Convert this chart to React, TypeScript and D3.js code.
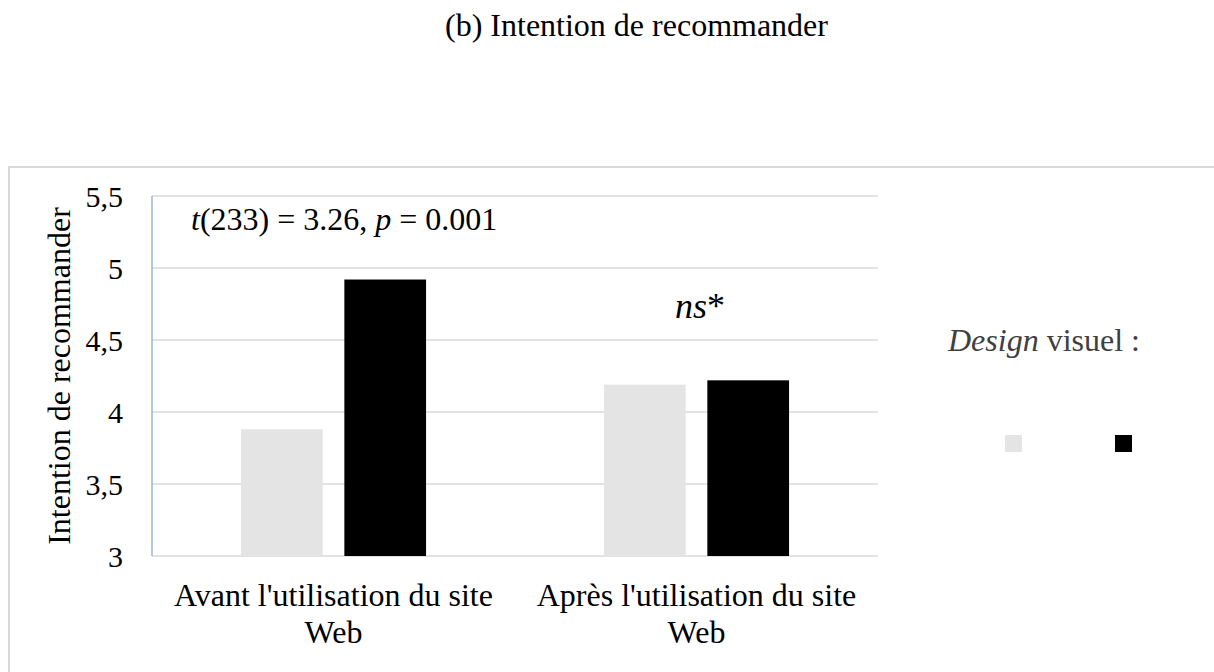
import React from "react";
import * as d3 from "d3";

const categories = ["Avant l'utilisation du site Web", "Après l'utilisation du site Web"];
const categoryLines = [["Avant l'utilisation du site", "Web"], ["Après l'utilisation du site", "Web"]];
const seriesNames = ["Design A", "Design B"];
const seriesColors = ["#e4e4e4", "#000000"];
const valuesA = [3.88, 4.19];
const valuesB = [4.92, 4.22];
const yTicks = [3, 3.5, 4, 4.5, 5, 5.5];

const W = 1214;
const H = 672;
const FONT = "Liberation Serif";

export default function App() {
  const left = 152, right = 878, top = 196, bottom = 556;
  const y = d3.scaleLinear().domain([3, 5.5]).range([bottom, top]);
  const x0 = d3.scaleBand<string>().domain(categories).range([left, right]).padding(0);
  const x1 = d3.scaleBand<string>().domain(seriesNames).range([0, x0.bandwidth()]).paddingInner(0.21).paddingOuter(0.86);
  const fmt = (v: number) => String(v).replace(".", ",");
  const seriesVals = [valuesA, valuesB];
  const ts = { fontFamily: FONT } as React.CSSProperties;

  return (
    <svg width={W} height={H} style={{ position: "absolute", left: 0, top: 0, background: "#fff", fontFamily: FONT }}>
      <rect x={0} y={0} width={W} height={H} fill="#fff" />
      <text style={ts} x={636.5} y={36} textAnchor="middle" fontSize={32} fill="#000">(b) Intention de recommander</text>
      <rect x={9} y={167} width={W + 20} height={H} fill="none" stroke="#d9d9d9" strokeWidth={2} />
      {yTicks.map((t) => (
        <line key={t} x1={left} x2={right} y1={y(t)} y2={y(t)} stroke="#d9d9d9" strokeWidth={1.5} />
      ))}
      {yTicks.map((t) => (
        <text style={ts} key={"l" + t} x={123} y={y(t)} dy="0.35em" textAnchor="end" fontSize={30} fill="#000">{fmt(t)}</text>
      ))}
      {categories.map((c, ci) => (
        <g key={c} transform={`translate(${x0(c)},0)`}>
          {seriesNames.map((s, si) => (
            <rect key={s} x={x1(s)} y={y(seriesVals[si][ci])} width={x1.bandwidth()} height={bottom - y(seriesVals[si][ci])} fill={seriesColors[si]} />
          ))}
        </g>
      ))}
      <line x1={left} x2={left} y1={top} y2={bottom} stroke="#7aa7d8" strokeWidth={1.2} />
      {categories.map((c, ci) => (
        <text style={ts} key={"c" + c} x={(x0(c) as number) + x0.bandwidth() / 2} y={606} textAnchor="middle" fontSize={32} fill="#000">
          {categoryLines[ci].map((ln, li) => (
            <tspan key={li} x={(x0(c) as number) + x0.bandwidth() / 2} dy={li === 0 ? 0 : 37}>{ln}</tspan>
          ))}
        </text>
      ))}
      <text style={ts} transform={`translate(70,376) rotate(-90)`} textAnchor="middle" fontSize={32} fill="#000">Intention de recommander</text>
      <text style={ts} x={191} y={230} fontSize={32} fill="#000">
        <tspan fontStyle="italic">t</tspan>(233) = 3.26, <tspan fontStyle="italic">p</tspan> = 0.001
      </text>
      <text style={ts} x={700} y={318} textAnchor="middle" fontSize={36} fill="#000">
        <tspan fontStyle="italic">ns</tspan>*
      </text>
      <text style={ts} x={1044} y={351} textAnchor="middle" fontSize={32} fill="#404040">
        <tspan fontStyle="italic">Design</tspan> visuel :
      </text>
      {seriesNames.map((s, si) => (
        <rect key={"lg" + s} x={1005 + si * 110} y={435} width={17} height={17} fill={seriesColors[si]} />
      ))}
    </svg>
  );
}
